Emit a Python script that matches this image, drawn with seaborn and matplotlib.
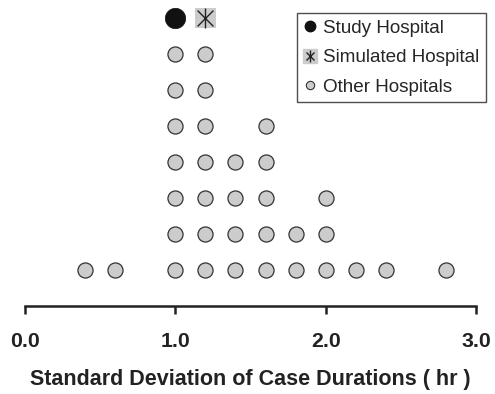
import matplotlib
matplotlib.use("Agg")
import matplotlib.pyplot as plt
import seaborn as sns
import pandas as pd
from matplotlib.lines import Line2D
from matplotlib.legend_handler import HandlerTuple

# Other hospitals: SD value (hr) and how many hospitals stack at that value
other_sd = [0.4, 0.6, 1.0, 1.2, 1.4, 1.6, 1.8, 2.0, 2.2, 2.4, 2.8]
other_count = [1, 1, 7, 7, 4, 5, 2, 3, 1, 1, 1]

study_sd = 1.0
simulated_sd = 1.2

x_ticks = [0.0, 1.0, 2.0, 3.0]
x_tick_labels = ["0.0", "1.0", "2.0", "3.0"]

# stack dots into rows
rows = []
for sd, n in zip(other_sd, other_count):
    for k in range(n):
        rows.append({"sd": sd, "level": k})
df_other = pd.DataFrame(rows)
top_level = max(other_count)
df_study = pd.DataFrame({"sd": [study_sd], "level": [top_level]})
df_sim = pd.DataFrame({"sd": [simulated_sd], "level": [top_level]})

sns.set_style("white")
plt.rcParams["font.family"] = ["Liberation Sans", "DejaVu Sans"]

fig = plt.figure(figsize=(4.95, 3.94), dpi=100)
ax = fig.add_axes([25 / 495, 88 / 394, 451 / 495, 306 / 394])

sns.scatterplot(data=df_other, x="sd", y="level", ax=ax, s=118,
                color="#cccccc", edgecolor="#333333", linewidth=0.9, legend=False)
sns.scatterplot(data=df_study, x="sd", y="level", ax=ax, s=215,
                color="#111111", edgecolor="#111111", linewidth=0.5, legend=False, zorder=3)
sns.scatterplot(data=df_sim, x="sd", y="level", ax=ax, s=215, marker="s",
                color="#cccccc", edgecolor="none", linewidth=0, legend=False, zorder=3)
sns.scatterplot(data=df_sim, x="sd", y="level", ax=ax, s=130, marker="x",
                color="#222222", linewidth=1.0, legend=False, zorder=4)
sns.scatterplot(data=df_sim, x="sd", y="level", ax=ax, s=200, marker="|",
                color="#222222", linewidth=1.0, legend=False, zorder=4)

ax.set_xlim(0, 3)
ax.set_ylim(-1, top_level + 0.5)
ax.set_xticks(x_ticks)
ax.set_xticklabels(x_tick_labels, fontsize=15.3, fontweight="bold", color="#222222")
ax.set_yticks([])
ax.set_ylabel("")
ax.set_xlabel("Standard Deviation of Case Durations ( hr )", fontsize=15.5,
              fontweight="bold", color="#222222", labelpad=13)
for side in ["left", "right", "top"]:
    ax.spines[side].set_visible(False)
ax.spines["bottom"].set_linewidth(1.8)
ax.spines["bottom"].set_color("#222222")
ax.tick_params(axis="x", direction="out", length=6, width=1.8, color="#222222", pad=13,
               bottom=True)
ax.patch.set_alpha(0)

h_study = Line2D([], [], marker="o", color="#111111", linestyle="none", markersize=7.5)
h_sq = Line2D([], [], marker="s", color="#cccccc", linestyle="none", markersize=10)
h_x = Line2D([], [], marker="x", color="#222222", linestyle="none", markersize=6, markeredgewidth=1)
h_bar = Line2D([], [], marker="|", color="#222222", linestyle="none", markersize=8, markeredgewidth=1)
h_other = Line2D([], [], marker="o", markerfacecolor="#cccccc", markeredgecolor="#333333",
                 linestyle="none", markersize=6, markeredgewidth=0.8)
leg = ax.legend([h_study, (h_sq, h_x, h_bar), h_other],
                ["Study Hospital", "Simulated Hospital", "Other Hospitals"],
                handler_map={tuple: HandlerTuple(ndivide=1, pad=0)},
                loc="upper right", bbox_to_anchor=(1.022, 0.958), fontsize=13.6,
                frameon=True, fancybox=False, edgecolor="#222222",
                handlelength=0.7, handletextpad=0.35, borderpad=0.35, labelspacing=0.65,
                borderaxespad=0)
leg.get_frame().set_linewidth(1.0)

fig.savefig("out.png", dpi=100)
